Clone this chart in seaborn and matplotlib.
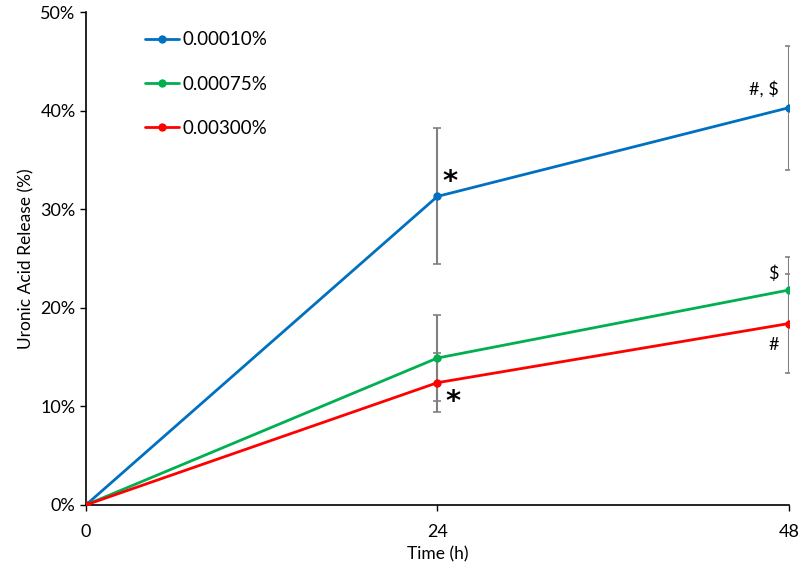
import matplotlib.pyplot as plt
import seaborn as sns
import pandas as pd

# Data
time_h = [0, 24, 48]
groups = ["0.00010%", "0.00075%", "0.00300%"]
release = {
    "0.00010%": [0.0, 31.3, 40.3],
    "0.00075%": [0.0, 14.9, 21.8],
    "0.00300%": [0.0, 12.4, 18.4],
}
errors = {
    "0.00010%": [0.0, 6.9, 6.3],
    "0.00075%": [0.0, 4.4, 3.4],
    "0.00300%": [0.0, 3.0, 5.0],
}
colors = ["#0070C0", "#00B050", "#FF0000"]

rows = []
for g in groups:
    for t, v, e in zip(time_h, release[g], errors[g]):
        rows.append({"Time": t, "Release": v, "Err": e, "Group": g})
df = pd.DataFrame(rows)

sns.set_style("white")
plt.rcParams["font.family"] = ["Lato", "DejaVu Sans"]
plt.rcParams["text.color"] = "black"
plt.rcParams["axes.labelcolor"] = "black"
plt.rcParams["xtick.color"] = "black"
plt.rcParams["ytick.color"] = "black"

fig = plt.figure(figsize=(8, 5.77), dpi=100)
ax = fig.add_axes([0.1075, 0.125, 0.8785, 0.854])

# error bars first (grey, behind lines)
for g in groups:
    sub = df[df["Group"] == g]
    ax.errorbar(sub["Time"], sub["Release"], yerr=sub["Err"], fmt="none",
                ecolor="#808080", elinewidth=1.5, capsize=3, capthick=1.2, zorder=1)

sns.lineplot(data=df, x="Time", y="Release", hue="Group", hue_order=groups,
             palette=colors, marker="o", markersize=6, markeredgewidth=0,
             linewidth=2, ax=ax, zorder=3)

# significance marks
ax.text(24.35, 32.8, "*", fontsize=21, fontweight="bold", ha="left", va="center",
        family="DejaVu Sans")
ax.text(24.55, 10.4, "*", fontsize=21, fontweight="bold", ha="left", va="center",
        family="DejaVu Sans")
ax.text(47.3, 42.2, "#, $", fontsize=13, ha="right", va="center")
ax.text(47.3, 23.5, "$", fontsize=13, ha="right", va="center")
ax.text(47.3, 16.2, "#", fontsize=13, ha="right", va="center")

ax.set_xlim(0, 48)
ax.set_ylim(0, 50)
ax.set_xticks(time_h)
ax.set_yticks(range(0, 51, 10))
ax.set_yticklabels([f"{v}%" for v in range(0, 51, 10)])
ax.set_xlabel("Time (h)", fontsize=12.5)
ax.set_ylabel("Uronic Acid Release (%)", fontsize=12.5)
ax.tick_params(axis="both", labelsize=13, direction="out", length=4, width=1,
               color="black", bottom=True, left=True)
ax.tick_params(axis="x", pad=10)

for s in ["top", "right"]:
    ax.spines[s].set_visible(False)
for s in ["left", "bottom"]:
    ax.spines[s].set_color("black")
    ax.spines[s].set_linewidth(1.2)

ax.legend(title=None, frameon=False, loc="upper left",
          bbox_to_anchor=(0.06, 0.995), fontsize=13.5, labelspacing=1.45,
          handlelength=1.8, handletextpad=0.2)

fig.savefig("out.png", dpi=100)
